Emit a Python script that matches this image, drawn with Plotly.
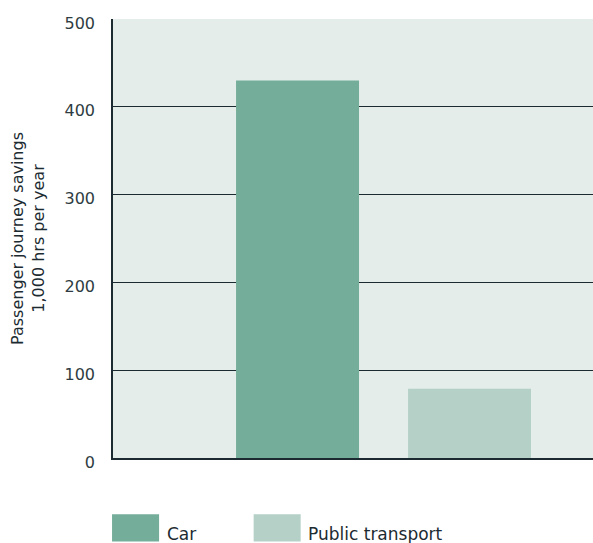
import plotly.graph_objects as go

# Passenger journey time savings by mode (thousand hours per year)
modes = ["Car", "Public transport"]
savings = [430, 79]
bar_colors = ["#74ad99", "#b5d1c7"]
y_ticks = [0, 100, 200, 300, 400, 500]

INK = "#1c2b31"
FONT = "DejaVu Sans"

fig = go.Figure()
fig.add_trace(go.Bar(
    x=list(range(len(modes))),
    y=savings,
    marker=dict(color=bar_colors, line=dict(width=0)),
    width=0.715,
    showlegend=False,
    hoverinfo="skip",
))

# Custom legend: large swatches with labels below the plot
legend_x = [0.0, 0.295]
for i, (name, col) in enumerate(zip(modes, bar_colors)):
    x0 = legend_x[i]
    fig.add_shape(type="rect", xref="paper", yref="paper",
                  x0=x0 - 0.002, x1=x0 + 0.096, y0=-0.19, y1=-0.128,
                  fillcolor=col, line=dict(width=0))
    fig.add_annotation(xref="paper", yref="paper", x=x0 + 0.108, y=-0.174,
                       text=name, showarrow=False, xanchor="left", yanchor="middle",
                       font=dict(family=FONT, size=17, color=INK))

fig.update_layout(
    width=593, height=543,
    margin=dict(l=113, r=0, t=19, b=85),
    paper_bgcolor="white",
    plot_bgcolor="#e4edea",
    font=dict(family=FONT, size=15, color=INK),
    bargap=0.3,
)
fig.update_xaxes(
    range=[-1.073, 1.718],
    showticklabels=False, ticks="", showgrid=False, zeroline=False,
    showline=True, linecolor=INK, linewidth=1.5,
)
fig.update_yaxes(
    range=[0, 500], tickvals=y_ticks,
    showgrid=True, gridcolor=INK, gridwidth=1.2,
    zeroline=False, showline=True, linecolor=INK, linewidth=1.5,
    ticks="", ticklabelstandoff=13, ticklabelshift=4,
    tickfont=dict(family=FONT, size=16, color="#2e3c42"),
    title=dict(text="Passenger journey savings<br>1,000 hrs per year",
               font=dict(family=FONT, size=16, color=INK), standoff=16),
)

fig.write_html("out.html")
